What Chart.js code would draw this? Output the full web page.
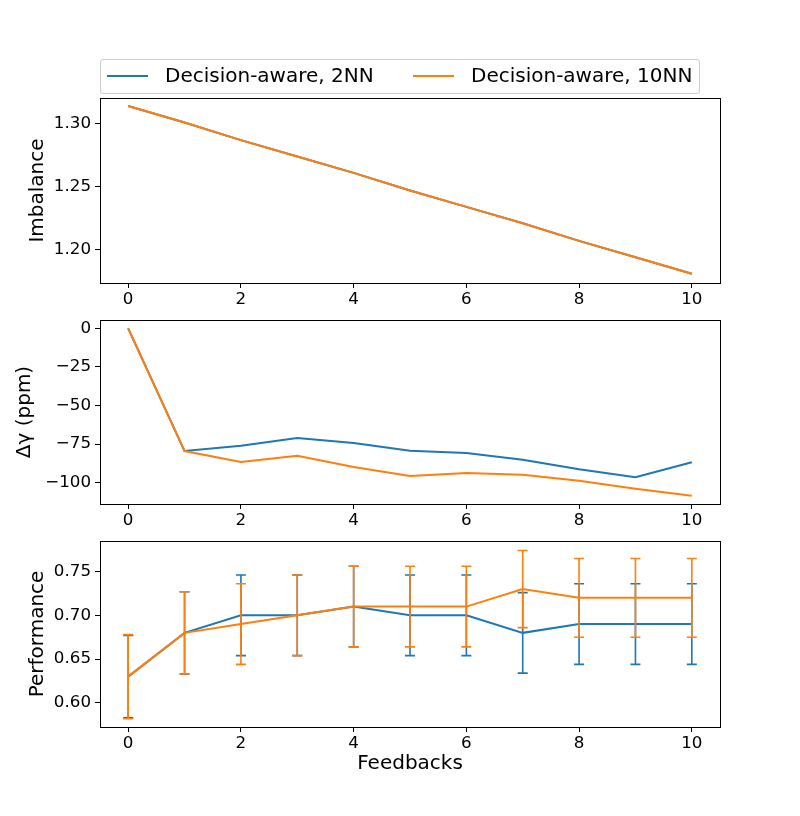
<!DOCTYPE html>
<html lang="en">

<head>
    <meta charset="UTF-8">
    <title>Decision-aware feedbacks</title>
    <script src="https://cdn.jsdelivr.net/npm/chart.js"></script>
    <style>
        body {
            margin: 0;
            background: #ffffff;
            font-family: 'DejaVu Sans', sans-serif;
        }

        #fig {
            position: relative;
            width: 800px;
            height: 816px;
            overflow: hidden;
        }

        #fig canvas {
            position: absolute;
            left: 0;
        }

        .legend {
            position: absolute;
            left: 100px;
            top: 59px;
            width: 598px;
            height: 33px;
            border: 1px solid #cccccc;
            border-radius: 3px;
            background: rgba(255, 255, 255, 0.8);
            font-size: 20px;
            color: #000;
        }

        .legend .handle {
            position: absolute;
            top: 15px;
            width: 41px;
            height: 2px;
        }

        .legend .label {
            position: absolute;
            top: 3px;
            line-height: 24px;
            white-space: nowrap;
        }
    </style>
</head>

<body>
    <div id="fig">
        <canvas id="imbalance_canvas" width="800" height="227" style="top:88px"></canvas>
        <canvas id="gamma_canvas" width="800" height="226" style="top:310px"></canvas>
        <canvas id="perf_canvas" width="800" height="256" style="top:531px"></canvas>

        <div class="legend">
            <div class="handle" style="left:6px;background:#1f77b4"></div>
            <div class="label" style="left:64px">Decision-aware, 2NN</div>
            <div class="handle" style="left:312px;background:#ff7f0e"></div>
            <div class="label" style="left:370px">Decision-aware, 10NN</div>
        </div>
    </div>

    <script>
        // data
        const feedbacks = [0, 1, 2, 3, 4, 5, 6, 7, 8, 9, 10];
        const xTicks = [0, 2, 4, 6, 8, 10];

        const imbalance2NN = [1.314, 1.301, 1.287, 1.274, 1.261, 1.247, 1.234, 1.221, 1.207, 1.194, 1.181];
        const imbalance10NN = [1.314, 1.301, 1.287, 1.274, 1.261, 1.247, 1.234, 1.221, 1.207, 1.194, 1.181];
        const imbalanceTicks = [1.20, 1.25, 1.30];

        const gamma2NN = [0, -79.5, -76.0, -71.0, -74.3, -79.3, -80.8, -85.1, -91.3, -96.5, -86.8];
        const gamma10NN = [0, -79.5, -86.6, -82.5, -89.8, -95.7, -93.7, -94.8, -98.7, -103.9, -108.4];
        const gammaTicks = [-100, -75, -50, -25, 0];

        const perf2NN = [0.63, 0.68, 0.70, 0.70, 0.71, 0.70, 0.70, 0.68, 0.69, 0.69, 0.69];
        const perf2NNErr = [0.047, 0.047, 0.046, 0.046, 0.046, 0.046, 0.046, 0.046, 0.046, 0.046, 0.046];
        const perf10NN = [0.63, 0.68, 0.69, 0.70, 0.71, 0.71, 0.71, 0.73, 0.72, 0.72, 0.72];
        const perf10NNErr = [0.048, 0.047, 0.046, 0.046, 0.046, 0.046, 0.046, 0.044, 0.045, 0.045, 0.045];
        const perfTicks = [0.60, 0.65, 0.70, 0.75];

        const BLUE = '#1f77b4';
        const ORANGE = '#ff7f0e';
        const FONT = 'DejaVu Sans';

        Chart.defaults.font.family = FONT;
        Chart.defaults.color = '#000';

        // black box round the plot area, like matplotlib spines
        const frame = {
            id: 'frame',
            afterDraw(chart) {
                const { ctx, chartArea: a } = chart;
                ctx.save();
                ctx.strokeStyle = '#000';
                ctx.lineWidth = 1;
                ctx.strokeRect(Math.round(a.left) + 0.5, Math.round(a.top) + 0.5,
                    Math.round(a.right - a.left), Math.round(a.bottom - a.top));
                ctx.restore();
            }
        };

        // vertical error bars with caps, drawn just under their own line
        const errorBars = {
            id: 'errorBars',
            beforeDatasetDraw(chart, args) {
                const ds = chart.data.datasets[args.index];
                if (!ds.errors) return;
                const xs = chart.scales.x, ys = chart.scales.y;
                const ctx = chart.ctx;
                ctx.save();
                ctx.strokeStyle = ds.borderColor;
                ctx.lineWidth = 1.6;
                ds.data.forEach((p, i) => {
                    const e = ds.errors[i];
                    const px = xs.getPixelForValue(p.x);
                    const top = ys.getPixelForValue(p.y + e);
                    const bot = ys.getPixelForValue(p.y - e);
                    ctx.beginPath();
                    ctx.moveTo(px, top);
                    ctx.lineTo(px, bot);
                    ctx.moveTo(px - 5, top);
                    ctx.lineTo(px + 5, top);
                    ctx.moveTo(px - 5, bot);
                    ctx.lineTo(px + 5, bot);
                    ctx.stroke();
                });
                ctx.restore();
            }
        };

        function points(values) {
            return feedbacks.map((x, i) => ({ x: x, y: values[i] }));
        }

        function series(values, color, order, errors) {
            return {
                data: points(values),
                borderColor: color,
                backgroundColor: color,
                borderWidth: 2,
                pointRadius: 0,
                tension: 0,
                order: order,
                errors: errors
            };
        }

        function makePanel(canvasId, datasets, opts) {
            return new Chart(document.getElementById(canvasId), {
                type: 'line',
                data: { datasets: datasets },
                options: {
                    responsive: false,
                    animation: false,
                    devicePixelRatio: 1,
                    layout: { padding: { top: 10, right: 80, left: 0, bottom: 0 } },
                    plugins: {
                        legend: { display: false },
                        tooltip: { enabled: false }
                    },
                    scales: {
                        x: {
                            type: 'linear',
                            min: -0.5,
                            max: 10.5,
                            afterBuildTicks: s => { s.ticks = xTicks.map(v => ({ value: v })); },
                            afterFit: s => {
                                s.height = opts.bottomHeight;
                                s.paddingLeft = 0;
                                s.paddingRight = 0;
                            },
                            ticks: {
                                font: { size: 16.7 },
                                padding: 2,
                                maxRotation: 0,
                                callback: v => String(v)
                            },
                            grid: { drawOnChartArea: false, drawTicks: true, tickLength: 5, color: '#000' },
                            border: { display: false },
                            title: {
                                display: !!opts.xTitle,
                                text: opts.xTitle || '',
                                font: { size: 20 },
                                padding: { top: 0, bottom: 11 }
                            }
                        },
                        y: {
                            min: opts.yMin,
                            max: opts.yMax,
                            afterBuildTicks: s => { s.ticks = opts.yTicks.map(v => ({ value: v })); },
                            afterFit: s => {
                                s.width = 100;
                                s.paddingTop = 0;
                                s.paddingBottom = 0;
                            },
                            ticks: {
                                font: { size: 16.7 },
                                padding: 4,
                                callback: opts.format
                            },
                            grid: { drawOnChartArea: false, drawTicks: true, tickLength: 5, color: '#000' },
                            border: { display: false },
                            title: {
                                display: true,
                                text: opts.yTitle,
                                font: { size: 20 },
                                padding: { top: opts.titlePad, bottom: 0 }
                            }
                        }
                    }
                },
                plugins: [frame, errorBars]
            });
        }

        makePanel('imbalance_canvas', [
            series(imbalance2NN, BLUE, 1),
            series(imbalance10NN, ORANGE, 0)
        ], {
            yMin: 1.1736, yMax: 1.3204, yTicks: imbalanceTicks,
            format: v => v.toFixed(2),
            yTitle: 'Imbalance', titlePad: 26, bottomHeight: 32
        });

        makePanel('gamma_canvas', [
            series(gamma2NN, BLUE, 1),
            series(gamma10NN, ORANGE, 0)
        ], {
            yMin: -113.8, yMax: 5.4, yTicks: gammaTicks,
            format: v => String(v).replace('-', '\u2212'),
            yTitle: 'Δγ (ppm)', titlePad: 13, bottomHeight: 32
        });

        makePanel('perf_canvas', [
            series(perf2NN, BLUE, 1, perf2NNErr),
            series(perf10NN, ORANGE, 0, perf10NNErr)
        ], {
            yMin: 0.5725, yMax: 0.7849, yTicks: perfTicks,
            format: v => v.toFixed(2),
            yTitle: 'Performance', titlePad: 26, bottomHeight: 60,
            xTitle: 'Feedbacks'
        });
    </script>

</body>

</html>
